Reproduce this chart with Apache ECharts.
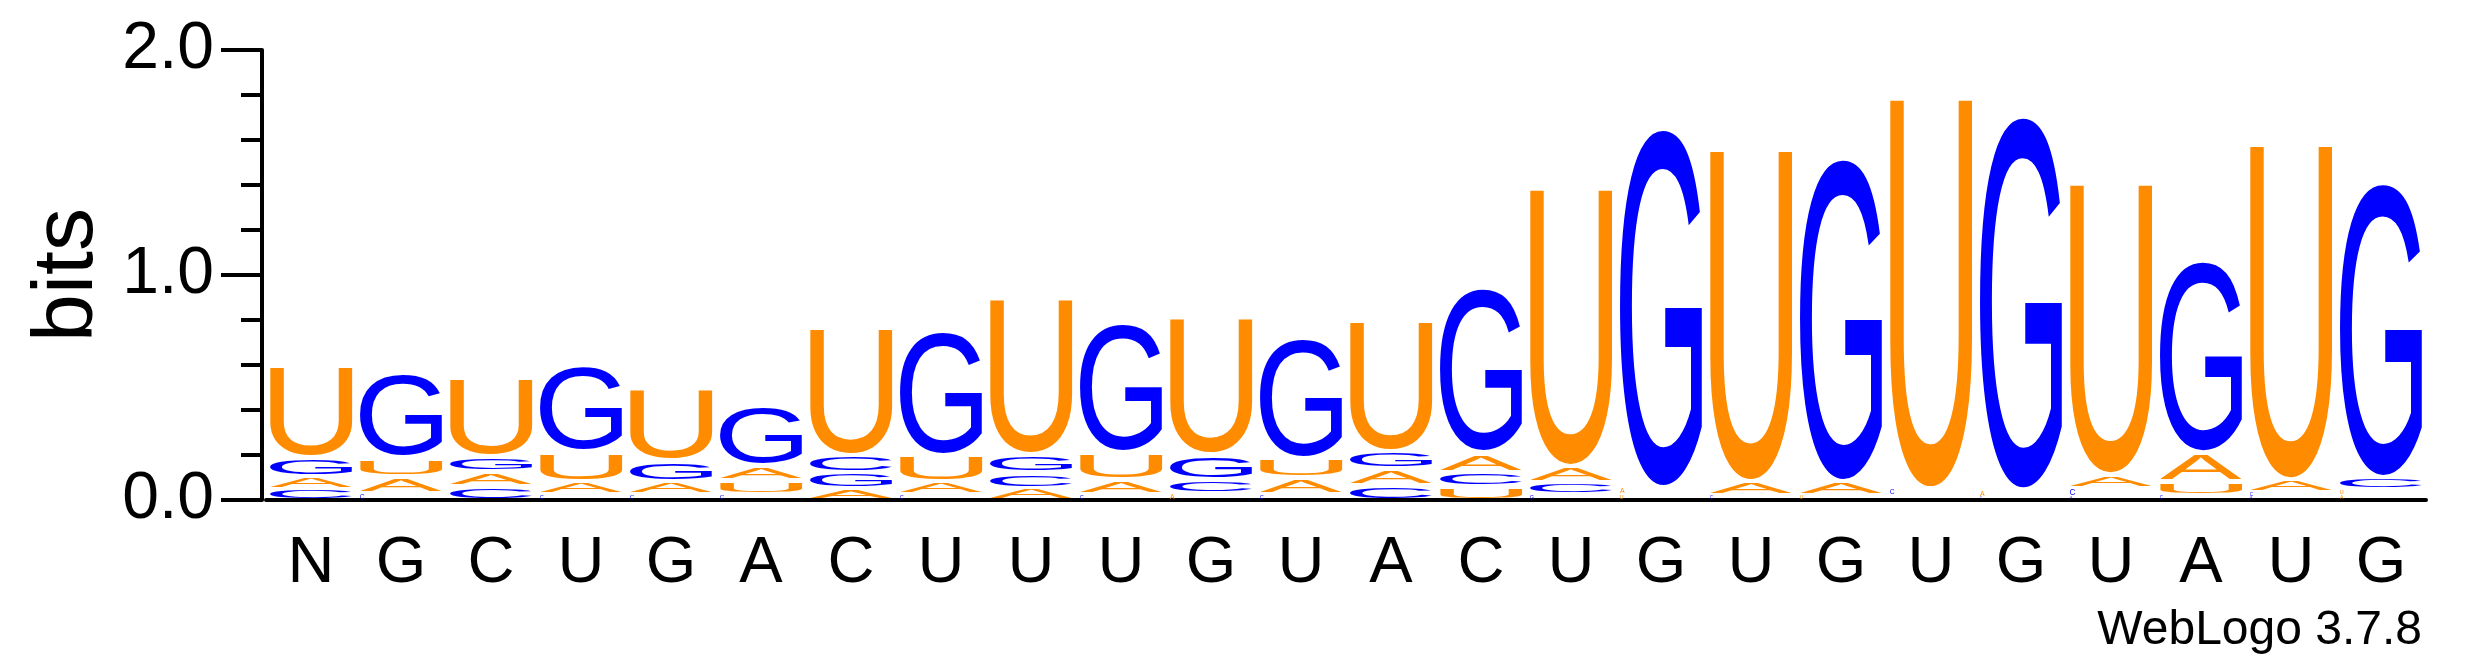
<!DOCTYPE html>
<html>
<head>
<meta charset="utf-8">
<script src="https://cdn.jsdelivr.net/npm/echarts@6/dist/echarts.min.js"></script>
<style>
html,body{margin:0;padding:0;background:#fff}
#logo{width:2475px;height:667px}
</style>
</head>
<body>
<div id="logo"></div>
<script>
// sequence positions (x axis labels)
var positions = ['N','G','C','U','G','A','C','U','U','U','G','U','A','C','U','G','U','G','U','G','U','A','U','G'];
// bits per letter, per position
var bitsA = [0.055,0.075,0.064,0.056,0.055,0.067,0.049,0.055,0.053,0.064,0.030,0.074,0.074,0.087,0.071,0.030,0.062,0.062,0.010,0.030,0.060,0.130,0.055,0.022];
var bitsC = [0.050,0.030,0.061,0.025,0.028,0.028,0.078,0.025,0.069,0.025,0.060,0.025,0.064,0.063,0.053,0.000,0.020,0.000,0.030,0.015,0.037,0.020,0.020,0.052];
var bitsG = [0.084,0.380,0.067,0.387,0.093,0.270,0.071,0.554,0.080,0.580,0.111,0.535,0.078,0.738,0.025,1.600,0.000,1.440,0.010,1.665,0.015,0.858,0.015,1.313];
var bitsU = [0.406,0.082,0.349,0.133,0.320,0.058,0.573,0.118,0.698,0.121,0.613,0.089,0.583,0.060,1.240,0.025,1.480,0.020,1.740,0.000,1.300,0.060,1.494,0.026];
var yTicks = [0, 1, 2];

var LETTERS = ['A','C','G','U'];
var BITS = {A: bitsA, C: bitsC, G: bitsG, U: bitsU};
var COLORS = {A: '#ff8c00', U: '#ff8c00', C: '#0000ff', G: '#0000ff'};
var FONT = '"Liberation Sans", Arial, sans-serif';
var GLYPH = '200px ' + FONT;
var PADX = 4;

// ink box of each glyph, measured once
var metrics = {};
(function(){
    var ctx = document.createElement('canvas').getContext('2d');
    ctx.font = GLYPH;
    ctx.textBaseline = 'middle';
    ctx.textAlign = 'left';
    LETTERS.forEach(function(l){
        var m = ctx.measureText(l);
        metrics[l] = {l: m.actualBoundingBoxLeft, r: m.actualBoundingBoxRight,
                      a: m.actualBoundingBoxAscent, d: m.actualBoundingBoxDescent};
    });
})();

function renderStack(params, api){
    var i = api.value(0);
    var stack = LETTERS.map(function(l){ return {l: l, h: BITS[l][i]}; })
        .filter(function(s){ return s.h > 0; })
        .sort(function(a, b){ return a.h - b.h; });
    var bw = api.size([1, 0])[0];
    var left = api.coord([i, 0])[0] - bw / 2;
    var base = 0;
    var kids = [];
    stack.forEach(function(s){
        var yb = api.coord([i, base])[1];
        var yt = api.coord([i, base + s.h])[1];
        base += s.h;
        var hpx = yb - yt;
        var pad = Math.min(2.5, hpx * 0.15);
        var gh = hpx - 2 * pad;
        if (gh < 2) return;
        var m = metrics[s.l];
        var iw = m.l + m.r, ih = m.a + m.d;
        var gw = bw - 2 * PADX;
        if (gh < 6) gw = gh * iw / ih;   // tiny letters keep their shape
        var sx = gw / iw, sy = gh / ih;
        kids.push({
            type: 'text',
            x: left + PADX + m.l * sx,
            y: yb - pad - m.d * sy,
            scaleX: sx,
            scaleY: sy,
            silent: true,
            style: {text: s.l, fill: COLORS[s.l], font: GLYPH,
                    align: 'left', verticalAlign: 'middle'}
        });
    });
    return {type: 'group', children: kids};
}

var chart = echarts.init(document.getElementById('logo'));
var option = {
    animation: false,
    backgroundColor: '#fff',
    textStyle: {fontFamily: FONT},
    grid: {left: 266, right: 49, top: 50, bottom: 167},
    xAxis: {
        type: 'category',
        data: positions,
        boundaryGap: true,
        axisLine: {lineStyle: {color: '#000', width: 4}},
        axisTick: {alignWithLabel: true, length: 20, lineStyle: {color: '#000', width: 4}},
        axisLabel: {interval: 0, color: '#000', fontSize: 65, fontFamily: FONT, margin: 32},
        splitLine: {show: false}
    },
    yAxis: {
        type: 'value',
        min: yTicks[0],
        max: yTicks[yTicks.length - 1],
        interval: 1,
        offset: 4,
        name: 'bits',
        nameLocation: 'middle',
        nameRotate: 90,
        nameGap: 145,
        nameTextStyle: {color: '#000', fontSize: 86, fontFamily: FONT},
        axisLine: {show: true, lineStyle: {color: '#000', width: 4}},
        axisTick: {show: true, length: 41, lineStyle: {color: '#000', width: 4}},
        minorTick: {show: true, splitNumber: 5, length: 21, lineStyle: {color: '#000', width: 4}},
        splitLine: {show: false},
        axisLabel: {color: '#000', fontSize: 66, fontFamily: FONT, margin: 48,
                    formatter: function(v){ return v.toFixed(1); }}
    },
    graphic: [{
        type: 'text',
        x: 2422,
        y: 631,
        style: {text: 'WebLogo 3.7.8', fill: '#000', fontSize: 48, fontFamily: FONT,
                align: 'right', verticalAlign: 'middle'}
    }],
    series: [{
        type: 'custom',
        renderItem: renderStack,
        encode: {x: 0},
        data: positions.map(function(p, i){ return [i]; })
    }]
};
chart.setOption(option);
</script>
</body>
</html>
